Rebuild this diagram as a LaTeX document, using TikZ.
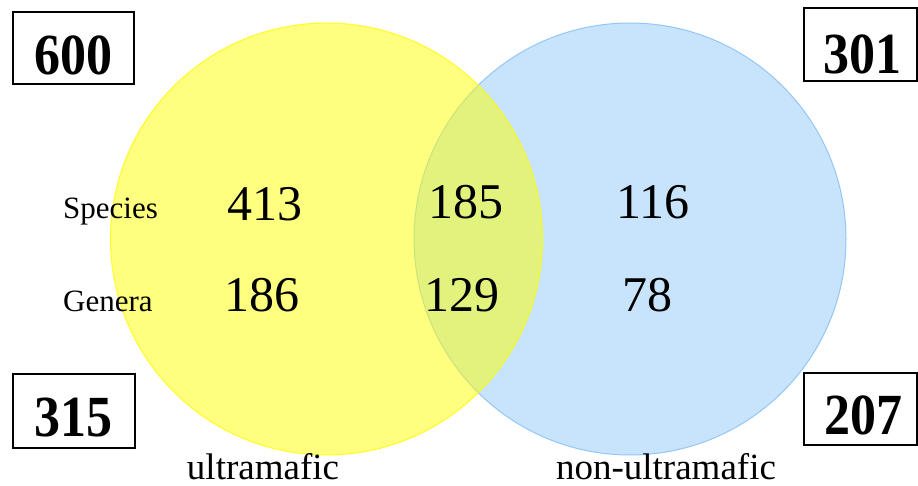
\documentclass[tikz,border=0pt]{standalone}
\usepackage{fontspec}
\setmainfont{Liberation Serif}
\definecolor{ylw}{RGB}{255,255,0}
\definecolor{blu}{RGB}{147,201,250}
\definecolor{bluedge}{RGB}{130,190,245}
\begin{document}
\begin{tikzpicture}[x=1pt,y=-1pt,
  cnt/.style={inner sep=0pt,font=\fontsize{50}{50}\selectfont},
  lbl/.style={inner sep=0pt,font=\fontsize{31}{31}\selectfont},
  captxt/.style={inner sep=0pt,font=\fontsize{37}{37}\selectfont},
  tot/.style={inner sep=0pt,font=\fontsize{52}{52}\selectfont\bfseries},
  totbox/.style={draw=black,line width=1.2pt,inner sep=0pt}]
\path[fill=white] (0,0) rectangle (918,486);
\useasboundingbox (0,0) rectangle (918,486);
% circles
\draw[fill=blu,fill opacity=0.5,draw=bluedge,draw opacity=0.8,line width=1pt] (630,239) circle (216);
\draw[fill=ylw,fill opacity=0.5,draw=ylw,draw opacity=0.8,line width=1pt] (326.5,239) circle (216);
% row labels
\node[lbl,anchor=base west] (sp) at (63,219) {Species};
\node[lbl,anchor=base west] (ge) at (63,312) {Genera};
% counts
\node[cnt] (a1) at (265,204) {413};
\node[cnt] (a2) at (262,295) {186};
\node[cnt] (b1) at (466,202) {185};
\node[cnt] (b2) at (462,295) {129};
\node[cnt] (c1) at (653,202) {116};
\node[cnt] (c2) at (647,295) {78};
% captions
\node[captxt,anchor=base] (u) at (263,479) {ultramafic};
\node[captxt,anchor=base] (nu) at (666,479) {non-ultramafic};
% totals
\node[totbox,minimum width=121pt,minimum height=72pt] (b600) at (73.5,48) {};
\node[tot] (t600) at (73,55) {\scalebox{1}[1.12]{600}};
\node[totbox,minimum width=113pt,minimum height=73pt] (b301) at (860.5,44.5) {};
\node[tot] (t301) at (862,54) {\scalebox{1}[1.12]{301}};
\node[totbox,minimum width=122pt,minimum height=74pt] (b315) at (74,411) {};
\node[tot] (t315) at (73.5,418) {\scalebox{1}[1.12]{315}};
\node[totbox,minimum width=113pt,minimum height=72pt] (b207) at (860.5,409) {};
\node[tot] (t207) at (863,415.5) {\scalebox{1}[1.12]{207}};
\end{tikzpicture}
\end{document}
